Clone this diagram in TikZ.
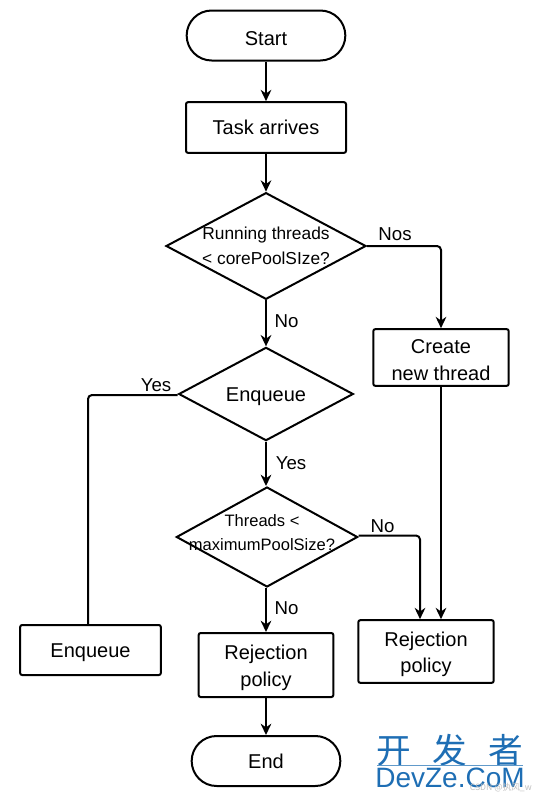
\documentclass[tikz,border=0pt]{standalone}
\usepackage{fontspec}
\setmainfont{Liberation Sans}
\newfontfamily\cjk{Noto Sans CJK SC}
\usetikzlibrary{arrows.meta,shapes.geometric,shapes.misc}
\definecolor{logoblue}{RGB}{30,110,180}
\begin{document}
\begin{tikzpicture}[
        x=0.75pt, y=-0.75pt,
        every node/.style={font=\fontsize{15}{20}\selectfont, inner sep=0pt},
        terminal/.style={rounded rectangle, draw, line width=1.5pt, minimum width=#1, minimum height=37.5pt},
        process/.style={rectangle, draw, rounded corners=1.5pt, line width=1.5pt, align=center},
        decision/.style={diamond, draw, line width=1.5pt, aspect=1.8},
        boxtext/.style={label={[yshift=-2.2pt, align=center]center:#1}},
        caption/.style={font=\fontsize{13}{18.5}\selectfont, align=center},
        tag/.style={font=\fontsize{14}{16}\selectfont},
        arrow/.style={-{Stealth[length=8.5pt,width=8pt]}, line width=1.5pt},
        link/.style={line width=1.5pt, rounded corners=3pt},
        logo/.style={text=logoblue}
    ]
        \useasboundingbox (0,0) rectangle (533,800);
        \node[terminal=119pt, boxtext=Start] (start) at (266,35.5) {};
        \node[process, minimum width=120pt, minimum height=38pt] (task) at (266,127.5) {\raisebox{-0.7pt}{Task arrives}};
        \node[decision, minimum width=150pt, minimum height=80pt] (core) at (266,246) {};
        \node[caption] (coretext) at (266,245.5) {Running threads\\< corePoolSIze?};
        \node[decision, minimum width=131pt, minimum height=70pt, boxtext=Enqueue] (queue) at (266,394) {};
        \node[decision, minimum width=136pt, minimum height=75pt] (max) at (267,537) {};
        \node[caption, font=\fontsize{12.4}{18}\selectfont] (maxtext) at (262,533) {Threads <\\maximumPoolSize?};
        \node[process, minimum width=101.5pt, minimum height=42.5pt, boxtext={Create\\new thread}] (create) at (441,357.5) {};
        \node[process, minimum width=105.5pt, minimum height=37.5pt, boxtext=Enqueue] (enqueue) at (90.5,650) {};
        \node[process, minimum width=101pt, minimum height=48pt, boxtext={Rejection\\policy}] (reject) at (266,665) {};
        \node[process, minimum width=101.5pt, minimum height=47pt, boxtext={Rejection\\policy}] (overflow) at (426,651.5) {};
        \node[terminal=111.5pt] (end) at (266,761) {\raisebox{-0.7pt}{End}};
        \coordinate (coreturn) at (441,246);
        \coordinate (maxturn) at (420,535.5);
        \coordinate (queueturn) at (88,395);
        \coordinate (ruleleft) at (377,765);
        \coordinate (ruleright) at (523,765);

        \draw[arrow] (start) -- (task);
        \draw[arrow] (task) -- (core);
        \draw[arrow] (core) -- (queue);
        \draw[arrow] (queue) -- (queue |- max.north);
        \draw[arrow] (max.south -| reject) -- (reject);
        \draw[arrow] (reject) -- (end);
        \draw[arrow, rounded corners=3pt] (core.east) -- (coreturn) -- (create.north);
        \draw[arrow] (create.south) -- (overflow.north -| create.south);
        \draw[arrow, rounded corners=3pt] (max.east |- maxturn) -- (maxturn) -- (maxturn |- overflow.north);
        \draw[link] (queue.west |- queueturn) -- (queueturn) -- (queueturn |- enqueue.north);

        \node[tag] (nos) at (395,234) {Nos};
        \node[tag] (no1) at (286.5,321.5) {No};
        \node[tag] (yes1) at (156,385) {Yes};
        \node[tag] (yes2) at (291,463.5) {Yes};
        \node[tag] (no2) at (382.5,526) {No};
        \node[tag] (no3) at (286.5,608) {No};

        \node[logo, font=\cjk\fontsize{26}{26}\selectfont] (logocn) at (449.5,750) {开\hspace{16pt}发\hspace{16pt}者};
        \node[logo, font=\fontsize{21}{21}\selectfont] (logola) at (450,778) {DevZe.CoM};
        \draw[logoblue!70, line width=0.5pt] (ruleleft) -- (ruleright);
        \node[text=black!25, font=\cjk\fontsize{6.5}{7}\selectfont, anchor=east] (csdn) at (532,788) {CSDN @执风\_w};
    \end{tikzpicture}
\end{document}
